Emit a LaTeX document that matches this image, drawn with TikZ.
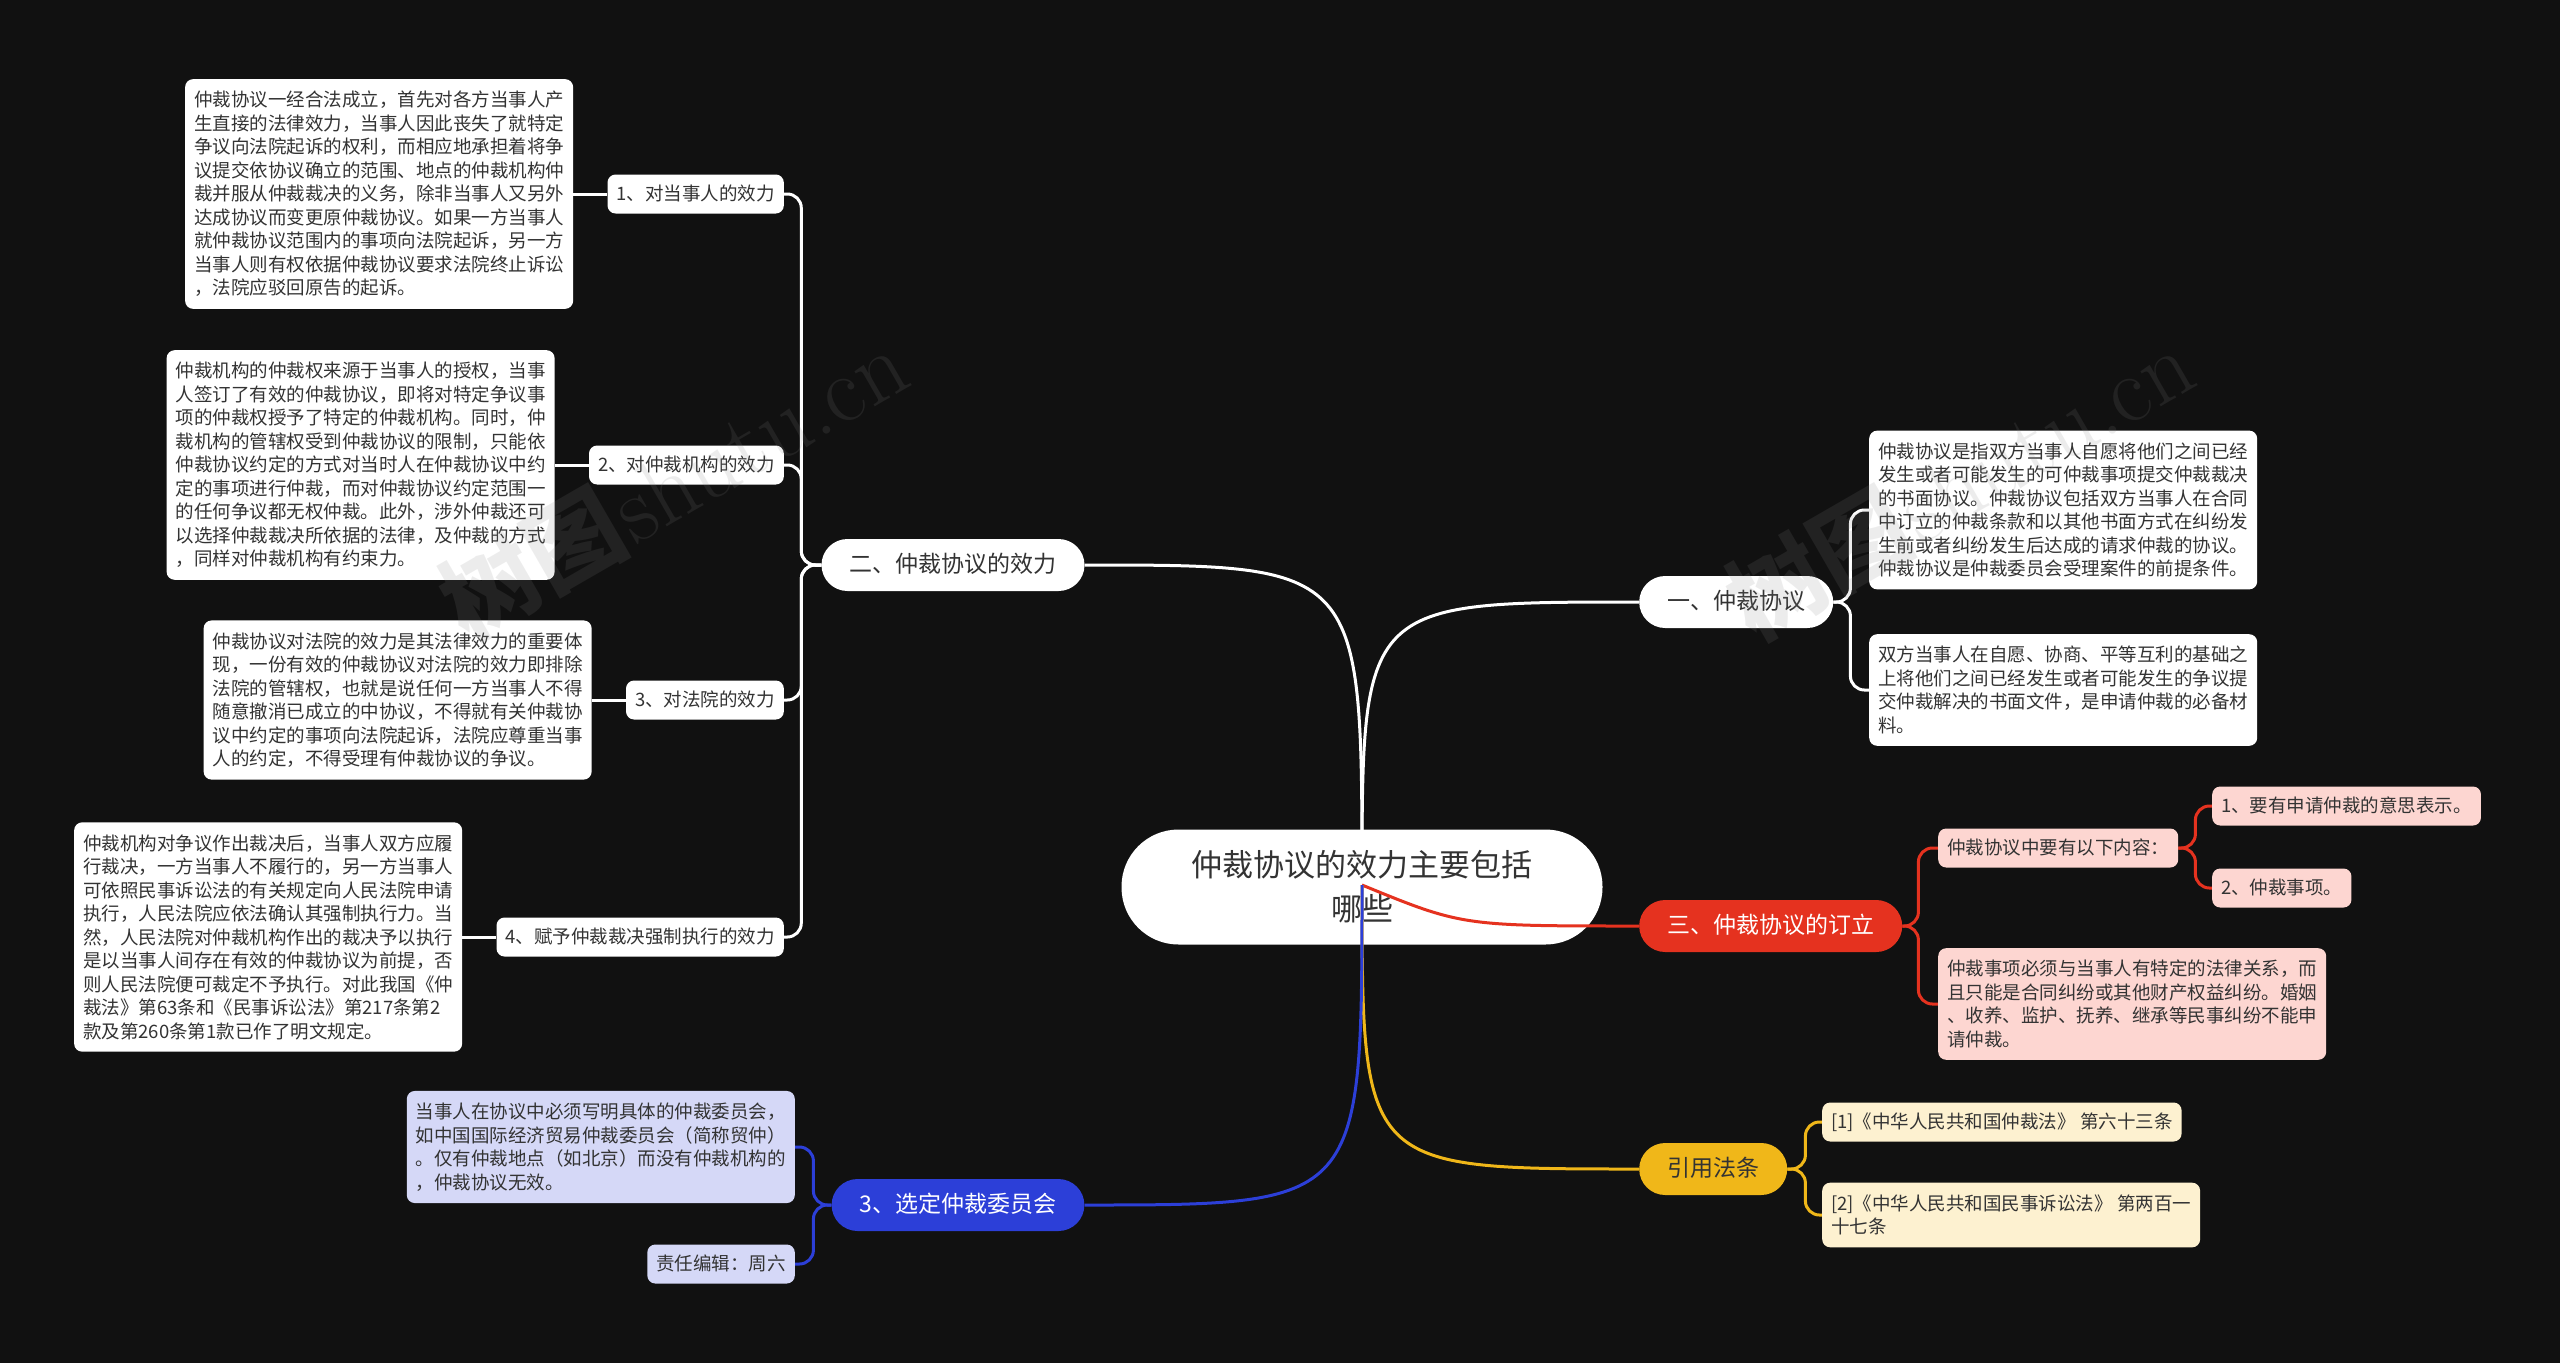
\documentclass[tikz,border=0pt]{standalone}
\usepackage{fontspec}
\newfontfamily\cjk{Noto Sans CJK SC}
\usetikzlibrary{calc}
\definecolor{bgc}{HTML}{111111}
\definecolor{txt}{HTML}{333333}
\definecolor{redm}{HTML}{E5321F}
\definecolor{pinkc}{HTML}{FDD6D1}
\definecolor{yelm}{HTML}{F0B719}
\definecolor{yell}{HTML}{FDF1D0}
\definecolor{blum}{HTML}{2C3FD8}
\definecolor{lav}{HTML}{D5D8F7}
\definecolor{wmc}{HTML}{848484}
\pgfdeclarelayer{back}
\pgfdeclarelayer{wl}
\pgfdeclarelayer{cen}
\pgfdeclarelayer{cl}
\pgfdeclarelayer{front}
\pgfsetlayers{back,wl,cen,cl,main,front}
\tikzset{
  textbox/.style={rounded corners=8pt, fill=white, text=txt, align=left, inner xsep=9pt, inner ysep=12pt, font=\cjk\fontsize{18.5}{23.5}\selectfont},
  lab/.style={rounded corners=8pt, fill=white, text=txt, inner xsep=9pt, inner ysep=10pt, text height=16pt, text depth=3pt, font=\cjk\fontsize{18.5}{23.5}\selectfont},
  topic/.style={rounded corners=26pt, minimum height=52pt, inner xsep=28pt, inner ysep=0pt, text height=18pt, text depth=4pt, font=\cjk\fontsize{23}{28}\selectfont},
  conn/.style={line width=3pt},
  wline/.style={conn, draw=white},
  rline/.style={conn, draw=redm},
  yline/.style={conn, draw=yelm},
  bline/.style={conn, draw=blum},
  brk/.style={rounded corners=14pt},
  wmark/.style={text=wmc, text opacity=0.15, rotate=30, inner sep=0pt},
}
\begin{document}
\begin{tikzpicture}[x=1pt,y=-1pt]
\begin{pgfonlayer}{back}
\fill[bgc] (0,0) rectangle (2560,1363);
\end{pgfonlayer}
\useasboundingbox (0,0) rectangle (2560,1363);

% centre
\coordinate (o) at (1362,885);
\begin{pgfonlayer}{cen}
\node[fill=white, text=txt, rounded corners=57pt, minimum width=481pt, minimum height=115pt, align=center, font=\cjk\fontsize{31}{44}\selectfont] (c) at (1362,887) {仲裁协议的效力主要包括\\哪些};
\end{pgfonlayer}

% level 1
\node[topic, fill=white, text=txt] (L2) at (953,565) {二、仲裁协议的效力};
\node[topic, fill=white, text=txt, anchor=west] (L1) at (1639,602) {一、仲裁协议};
\node[topic, fill=redm, text=white, anchor=west] (L3) at (1639,926) {三、仲裁协议的订立};
\node[topic, fill=yelm, text=txt, anchor=west] (LY) at (1639,1169) {引用法条};
\node[topic, fill=blum, text=white] (LB) at (958,1205) {3、选定仲裁委员会};

% branch 二
\node[lab, anchor=east] (a1) at (784,194) {1、对当事人的效力};
\node[lab, anchor=east] (a2) at (784,465) {2、对仲裁机构的效力};
\node[lab, anchor=east] (a3) at (784,700) {3、对法院的效力};
\node[lab, anchor=east] (a4) at (784,937) {4、赋予仲裁裁决强制执行的效力};

\node[textbox, anchor=east] (ta) at ($(a1.west)+(-34,0)$) {仲裁协议一经合法成立，首先对各方当事人产\\生直接的法律效力，当事人因此丧失了就特定\\争议向法院起诉的权利，而相应地承担着将争\\议提交依协议确立的范围、地点的仲裁机构仲\\裁并服从仲裁裁决的义务，除非当事人又另外\\达成协议而变更原仲裁协议。如果一方当事人\\就仲裁协议范围内的事项向法院起诉，另一方\\当事人则有权依据仲裁协议要求法院终止诉讼\\，法院应驳回原告的起诉。};
\node[textbox, anchor=east] (tb) at ($(a2.west)+(-34,0)$) {仲裁机构的仲裁权来源于当事人的授权，当事\\人签订了有效的仲裁协议，即将对特定争议事\\项的仲裁权授予了特定的仲裁机构。同时，仲\\裁机构的管辖权受到仲裁协议的限制，只能依\\仲裁协议约定的方式对当时人在仲裁协议中约\\定的事项进行仲裁，而对仲裁协议约定范围一\\的任何争议都无权仲裁。此外，涉外仲裁还可\\以选择仲裁裁决所依据的法律，及仲裁的方式\\，同样对仲裁机构有约束力。};
\node[textbox, anchor=east] (tc) at ($(a3.west)+(-34,0)$) {仲裁协议对法院的效力是其法律效力的重要体\\现，一份有效的仲裁协议对法院的效力即排除\\法院的管辖权，也就是说任何一方当事人不得\\随意撤消已成立的中协议，不得就有关仲裁协\\议中约定的事项向法院起诉，法院应尊重当事\\人的约定，不得受理有仲裁协议的争议。};
\node[textbox, anchor=east] (td) at ($(a4.west)+(-34,0)$) {仲裁机构对争议作出裁决后，当事人双方应履\\行裁决，一方当事人不履行的，另一方当事人\\可依照民事诉讼法的有关规定向人民法院申请\\执行，人民法院应依法确认其强制执行力。当\\然，人民法院对仲裁机构作出的裁决予以执行\\是以当事人间存在有效的仲裁协议为前提，否\\则人民法院便可裁定不予执行。对此我国《仲\\裁法》第63条和《民事诉讼法》第217条第2\\款及第260条第1款已作了明文规定。};

% branch 一
\node[textbox, anchor=west] (e1) at (1869,510) {仲裁协议是指双方当事人自愿将他们之间已经\\发生或者可能发生的可仲裁事项提交仲裁裁决\\的书面协议。仲裁协议包括双方当事人在合同\\中订立的仲裁条款和以其他书面方式在纠纷发\\生前或者纠纷发生后达成的请求仲裁的协议。\\仲裁协议是仲裁委员会受理案件的前提条件。};
\node[textbox, anchor=west] (e2) at (1869,690) {双方当事人在自愿、协商、平等互利的基础之\\上将他们之间已经发生或者可能发生的争议提\\交仲裁解决的书面文件，是申请仲裁的必备材\\料。};

% branch 三
\node[lab, fill=pinkc, anchor=west] (p3) at (1938,848) {仲裁协议中要有以下内容：};
\node[lab, fill=pinkc, anchor=west] (r1) at (2212,806) {1、要有申请仲裁的意思表示。};
\node[lab, fill=pinkc, anchor=west] (r2) at (2212,888) {2、仲裁事项。};
\node[textbox, fill=pinkc, anchor=west] (g) at (1938,1004) {仲裁事项必须与当事人有特定的法律关系，而\\且只能是合同纠纷或其他财产权益纠纷。婚姻\\、收养、监护、抚养、继承等民事纠纷不能申\\请仲裁。};

% branch 引用法条
\node[lab, fill=yell, anchor=west] (y1) at (1822,1122) {[1]《中华人民共和国仲裁法》 第六十三条};
\node[textbox, fill=yell, anchor=west] (y2) at (1822,1215) {[2]《中华人民共和国民事诉讼法》 第两百一\\十七条};

% branch 3、选定
\node[textbox, fill=lav, anchor=east] (h) at (795,1147) {当事人在协议中必须写明具体的仲裁委员会，\\如中国国际经济贸易仲裁委员会（简称贸仲）\\。仅有仲裁地点（如北京）而没有仲裁机构的\\，仲裁协议无效。};
\node[lab, fill=lav, anchor=east] (h2) at (795,1264) {责任编辑：周六};

% connectors from centre
\begin{pgfonlayer}{wl}
\draw[wline] (o) .. controls (o |- L2.east) .. (L2.east);
\draw[wline] (o) .. controls (o |- L1.west) .. (L1.west);
\end{pgfonlayer}
\begin{pgfonlayer}{cl}
\draw[rline] (o) .. controls ($(o |- L3.west)+(100,0)$) .. (L3.west);
\draw[yline] (o) .. controls (o |- LY.west) .. (LY.west);
\draw[bline] (o) .. controls (o |- LB.east) .. (LB.east);
% brackets
\foreach \t in {a1,a2,a3,a4}{\draw[wline, brk] (L2.west) -- ++(-20,0) |- (\t.east);}
\draw[wline] (ta.east) -- (a1.west);
\draw[wline] (tb.east) -- (a2.west);
\draw[wline] (tc.east) -- (a3.west);
\draw[wline] (td.east) -- (a4.west);
\foreach \t in {e1,e2}{\draw[wline, brk] (L1.east) -- ++(17,0) |- (\t.west);}
\foreach \t in {p3,g}{\draw[rline, brk] (L3.east) -- ++(16,0) |- (\t.west);}
\foreach \t in {r1,r2}{\draw[rline, brk] (p3.east) -- ++(17,0) |- (\t.west);}
\foreach \t in {y1,y2}{\draw[yline, brk] (LY.east) -- ++(18,0) |- (\t.west);}
\foreach \t in {h,h2}{\draw[bline, brk] (LB.west) -- ++(-18,0) |- (\t.east);}
\end{pgfonlayer}

% watermarks
\begin{pgfonlayer}{front}
\node[wmark] (w1) at (673,482) {{\cjk\bfseries\fontsize{95}{95}\selectfont 树图} {\fontsize{95}{95}\selectfont shutu.cn}};
\node[wmark] (w2) at (1959,482) {{\cjk\bfseries\fontsize{95}{95}\selectfont 树图} {\fontsize{95}{95}\selectfont shutu.cn}};
\end{pgfonlayer}
\end{tikzpicture}
\end{document}
